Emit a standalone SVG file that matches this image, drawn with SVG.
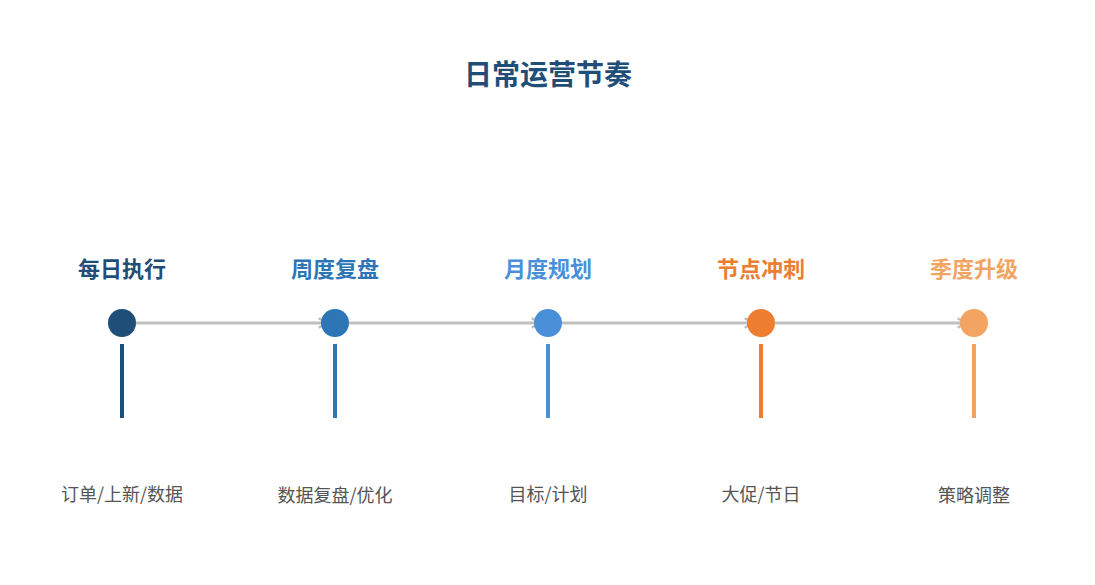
<svg xmlns="http://www.w3.org/2000/svg" width="1095" height="585" viewBox="0 0 1095 585">
<style>
text{font-family:"Noto Sans CJK SC","Liberation Sans",sans-serif;text-anchor:middle}
.t{font-size:28px;font-weight:bold;fill:#1f4e79}
.h{font-size:22px;font-weight:bold}
.d{font-size:18px;fill:#555}
.c{stroke:#c0c0c0;stroke-width:3;fill:none}
.v{stroke-width:4}
</style>
<defs><marker id="a" viewBox="0 0 10 10" refX="8" refY="5" markerWidth="4" markerHeight="4" orient="auto"><path d="M1 1L8 5L1 9" fill="none" stroke="#c0c0c0" stroke-width="2"/></marker></defs>
<rect width="1095" height="585" fill="#fff"/>
<text class="t" x="548" y="85">日常运营节奏</text>
<g id="connectors">
<line class="c" x1="136" y1="323" x2="327" y2="323" marker-end="url(#a)"/>
<line class="c" x1="349" y1="323" x2="540" y2="323" marker-end="url(#a)"/>
<line class="c" x1="562" y1="323" x2="753" y2="323" marker-end="url(#a)"/>
<line class="c" x1="775" y1="323" x2="966" y2="323" marker-end="url(#a)"/>
</g>
<g id="n1"><text class="h" x="122" y="277" fill="#1f4e79">每日执行</text><circle cx="122" cy="323" r="14" fill="#1f4e79"/><line class="v" x1="122" y1="344" x2="122" y2="418" stroke="#1f4e79"/><text class="d" x="122" y="501">订单/上新/数据</text></g>
<g id="n2"><text class="h" x="335" y="277" fill="#2e75b6">周度复盘</text><circle cx="335" cy="323" r="14" fill="#2e75b6"/><line class="v" x1="335" y1="344" x2="335" y2="418" stroke="#2e75b6"/><text class="d" x="335" y="502">数据复盘/优化</text></g>
<g id="n3"><text class="h" x="548" y="277" fill="#4a90d9">月度规划</text><circle cx="548" cy="323" r="14" fill="#4a90d9"/><line class="v" x1="548" y1="344" x2="548" y2="418" stroke="#4a90d9"/><text class="d" x="548" y="501">目标/计划</text></g>
<g id="n4"><text class="h" x="761" y="277" fill="#ed7d31">节点冲刺</text><circle cx="761" cy="323" r="14" fill="#ed7d31"/><line class="v" x1="761" y1="344" x2="761" y2="418" stroke="#ed7d31"/><text class="d" x="761" y="501">大促/节日</text></g>
<g id="n5"><text class="h" x="974" y="277" fill="#f2a462">季度升级</text><circle cx="974" cy="323" r="14" fill="#f2a462"/><line class="v" x1="974" y1="344" x2="974" y2="418" stroke="#f2a462"/><text class="d" x="974" y="502">策略调整</text></g>
</svg>
